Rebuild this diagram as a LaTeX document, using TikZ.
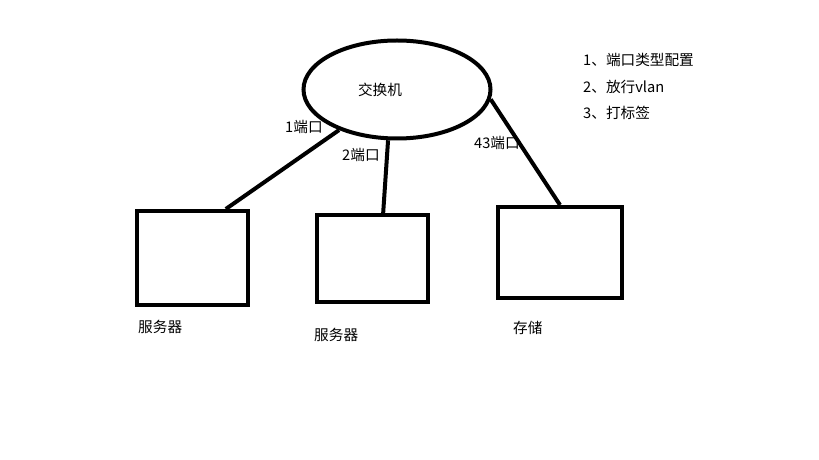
\documentclass[tikz,border=0pt]{standalone}
\usepackage{fontspec}
\setmainfont{Noto Sans CJK SC}
\usetikzlibrary{shapes.geometric, positioning}

\begin{document}
\begin{tikzpicture}[
    x=0.03cm, y=-0.03cm,
    sw/.style={ellipse, draw, line width=0.12cm, inner sep=0pt, minimum width=5.61cm, minimum height=2.94cm},
    box/.style={rectangle, draw, line width=0.12cm, inner sep=0pt},
    txt/.style={font=\fontsize{12.5pt}{15pt}\selectfont, inner sep=0pt},
    link/.style={line width=0.12cm}
]
\useasboundingbox (0,0) rectangle (819,460);

% Conmutador
\node (switch) [sw] at (397,89.5) {};
\node (switchtext) [txt] at (380,90) {交换机};

% Equipos
\node (srvA) [box, minimum width=3.33cm, minimum height=2.82cm] at (192.5,258) {};
\node (srvB) [box, minimum width=3.33cm, minimum height=2.61cm] at (372.5,258.5) {};
\node (store) [box, minimum width=3.72cm, minimum height=2.73cm] at (560,252.5) {};

% Etiquetas
\node (srvAtext) [txt, anchor=west] at (138,327) {服务器};
\node (srvBtext) [txt, anchor=west] at (314,335) {服务器};
\node (storetext) [txt, anchor=west] at (513,328) {存储};

\node (portA) [txt, anchor=west] at (285,127) {1端口};
\node (portB) [txt, anchor=west] at (342,155) {2端口};
\node (portC) [txt, anchor=west] at (474,143) {43端口};

% Lista de tareas
\node (step1) [txt, anchor=west] at (583,60) {1、端口类型配置};
\node (step2) [txt, anchor=west, below=0.38cm of step1.south west, anchor=north west] {2、放行vlan};
\node (step3) [txt, below=0.38cm of step2.south west, anchor=north west] {3、打标签};

% Enlaces
\draw [link] (switch.215) -- ([xshift=1cm]srvA.north);
\draw [link] (switch.260) -- ([xshift=0.32cm]srvB.north);
\draw [link] (switch.354) -- (store.north);

\end{tikzpicture}
\end{document}
